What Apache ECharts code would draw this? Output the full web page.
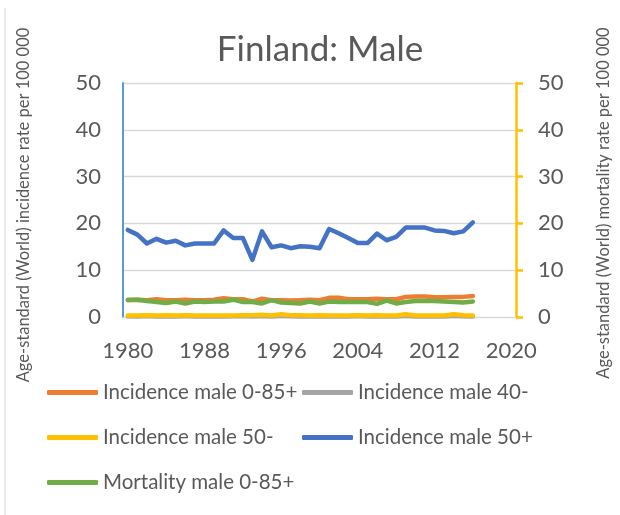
<!DOCTYPE html>
<html>
<head>
<meta charset="utf-8">
<script src="https://cdn.jsdelivr.net/npm/echarts@6/dist/echarts.min.js"></script>
<style>
  html, body { margin: 0; padding: 0; background: #fff; }
  #chart { width: 620px; height: 515px; }
</style>
</head>
<body>
<div id="chart"></div>
<script>
// years on the x axis (data stops at 2016)
var years = ['1980', '1981', '1982', '1983', '1984', '1985', '1986', '1987', '1988', '1989',
  '1990', '1991', '1992', '1993', '1994', '1995', '1996', '1997', '1998', '1999',
  '2000', '2001', '2002', '2003', '2004', '2005', '2006', '2007', '2008', '2009',
  '2010', '2011', '2012', '2013', '2014', '2015', '2016', '2017', '2018', '2019', '2020']

var incidence0_85 = [3.6, 3.7, 3.6, 3.8, 3.6, 3.6, 3.7, 3.6, 3.6, 3.7,
  4.0, 3.8, 3.8, 3.3, 3.9, 3.6, 3.6, 3.5, 3.6, 3.7,
  3.6, 4.1, 4.1, 3.8, 3.8, 3.8, 3.9, 3.8, 3.8, 4.3,
  4.4, 4.4, 4.2, 4.2, 4.3, 4.3, 4.5]
var incidence40 = [0.15, 0.1, 0.2, 0.1, 0.15, 0.1, 0.2, 0.1, 0.1, 0.15,
  0.1, 0.15, 0.2, 0.1, 0.2, 0.1, 0.25, 0.15, 0.1, 0.1,
  0.15, 0.1, 0.1, 0.1, 0.2, 0.1, 0.15, 0.1, 0.1, 0.25,
  0.1, 0.1, 0.15, 0.1, 0.25, 0.15, 0.1]
var incidence50 = [0.3, 0.3, 0.4, 0.3, 0.4, 0.3, 0.4, 0.3, 0.3, 0.3,
  0.3, 0.3, 0.4, 0.4, 0.5, 0.3, 0.6, 0.4, 0.4, 0.3,
  0.4, 0.3, 0.3, 0.3, 0.4, 0.3, 0.4, 0.3, 0.3, 0.6,
  0.3, 0.3, 0.3, 0.3, 0.6, 0.4, 0.3]
var incidence50plus = [18.6, 17.6, 15.7, 16.7, 15.9, 16.3, 15.3, 15.7, 15.7, 15.7,
  18.5, 16.9, 16.9, 12.2, 18.3, 14.9, 15.3, 14.7, 15.1, 15.0,
  14.7, 18.8, 17.9, 16.9, 15.8, 15.8, 17.8, 16.4, 17.1, 19.1,
  19.1, 19.1, 18.5, 18.4, 17.9, 18.3, 20.2]
var mortality0_85 = [3.7, 3.7, 3.4, 3.2, 3.0, 3.3, 2.9, 3.3, 3.2, 3.3,
  3.3, 3.7, 3.2, 3.2, 2.9, 3.6, 3.1, 3.0, 2.9, 3.3,
  2.9, 3.3, 3.2, 3.2, 3.2, 3.2, 2.8, 3.5, 2.9, 3.2,
  3.4, 3.4, 3.4, 3.3, 3.2, 3.1, 3.3]

var seriesNames = ['Incidence male 0-85+', 'Incidence male 40-', 'Incidence male 50-',
  'Incidence male 50+', 'Mortality male 0-85+']
var colors = ['#ED7D31', '#A5A5A5', '#FFC000', '#4472C4', '#70AD47']

var font = 'Lato, "Noto Sans", sans-serif'
var textColor = '#595959'

var chart = echarts.init(document.getElementById('chart'))

function line(name, data, color, axis) {
  return {
    name: name,
    type: 'line',
    yAxisIndex: axis,
    data: data,
    symbol: 'none',
    lineStyle: { color: color, width: 4.5, cap: 'round', join: 'round' },
    itemStyle: { color: color },
    animation: false
  }
}

// one legend per entry so they sit in Excel's two-column grid
var legendPos = [[47, 382], [302, 382], [47, 427], [302, 427], [47, 472]]
var legends = seriesNames.map(function (n, i) {
  return {
    data: [n],
    left: legendPos[i][0],
    top: legendPos[i][1],
    padding: 0,
    icon: 'roundRect',
    itemWidth: 51,
    itemHeight: 5,
    itemGap: 0,
    textStyle: { fontFamily: font, fontSize: 20.5, color: textColor }
  }
})

chart.setOption({
  backgroundColor: '#fff',
  title: {
    text: 'Finland: Male',
    left: 315,
    top: 27,
    textAlign: 'center',
    textStyle: { fontFamily: font, fontSize: 35, fontWeight: 'normal', color: textColor }
  },
  legend: legends,
  grid: { left: 123, right: 93, top: 83, bottom: 198 },
  xAxis: {
    type: 'category',
    data: years,
    boundaryGap: true,
    axisLine: { lineStyle: { color: '#D9D9D9', width: 1 } },
    axisTick: { show: false },
    axisLabel: {
      interval: 7,
      margin: 23,
      fontFamily: font,
      fontSize: 22,
      color: textColor
    }
  },
  yAxis: [
    {
      type: 'value',
      min: 0,
      max: 50,
      interval: 10,
      name: 'Age-standard (World) incidence rate per 100 000',
      nameLocation: 'middle',
      nameRotate: 90,
      nameGap: 91,
      nameTextStyle: { fontFamily: font, fontSize: 16.5, color: textColor, padding: [0, 10, 0, 0] },
      axisLine: { show: true, lineStyle: { color: '#5B9BD5', width: 2 } },
      axisTick: { show: false },
      splitLine: { lineStyle: { color: '#D9D9D9', width: 1.3 } },
      axisLabel: { margin: 22, fontFamily: font, fontSize: 22, color: textColor }
    },
    {
      type: 'value',
      min: 0,
      max: 50,
      interval: 10,
      position: 'right',
      name: 'Age-standard (World) mortality rate per 100 000',
      nameLocation: 'middle',
      nameRotate: 90,
      nameGap: 79,
      nameTextStyle: { fontFamily: font, fontSize: 16.5, color: textColor, padding: [0, 6, 0, 0] },
      axisLine: { show: true, lineStyle: { color: '#FFC000', width: 2.5 } },
      axisTick: { show: true, length: 7, lineStyle: { color: '#FFC000', width: 2.5 } },
      splitLine: { show: false },
      axisLabel: { margin: 22, fontFamily: font, fontSize: 22, color: textColor }
    }
  ],
  graphic: [
    {
      type: 'line',
      shape: { x1: 5, y1: 8, x2: 5, y2: 515 },
      style: { stroke: '#D9D9D9', lineWidth: 1 }
    }
  ],
  series: [
    line(seriesNames[0], incidence0_85, colors[0], 0),
    line(seriesNames[1], incidence40, colors[1], 0),
    line(seriesNames[2], incidence50, colors[2], 0),
    line(seriesNames[3], incidence50plus, colors[3], 0),
    line(seriesNames[4], mortality0_85, colors[4], 1)
  ]
})
</script>
</body>
</html>
